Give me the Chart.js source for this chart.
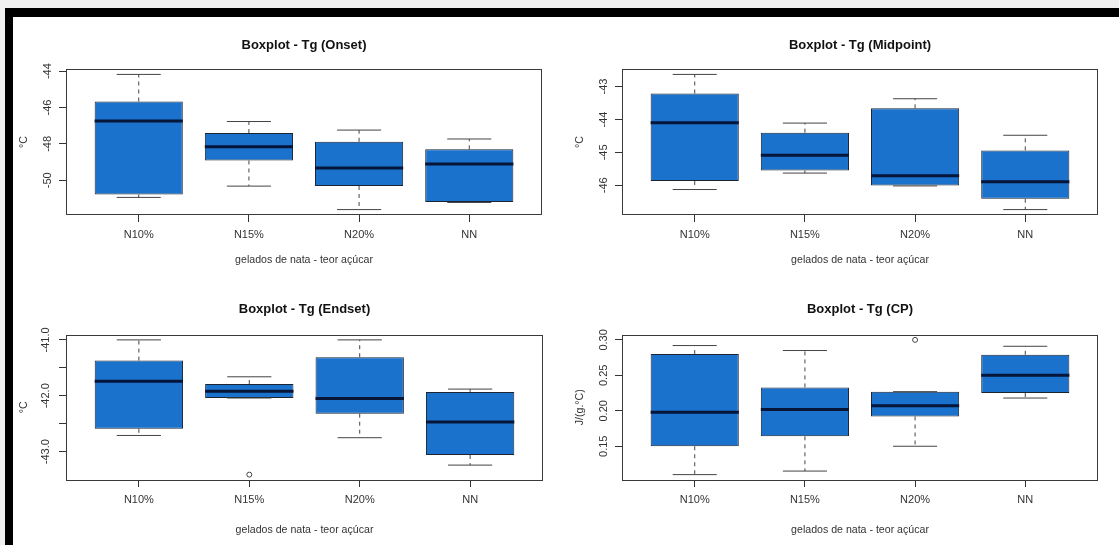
<!DOCTYPE html>
<html>
<head>
<meta charset="utf-8">
<script src="https://cdn.jsdelivr.net/npm/chart.js@4.4.1/dist/chart.umd.min.js"></script>
<style>
  html, body { margin: 0; padding: 0; }
  body { width: 1119px; height: 545px; position: relative; overflow: hidden; background: #f1f1f1; }
  #frame { position: absolute; left: 5px; top: 8px; right: 0; bottom: 0; background: #000; }
  #paper { position: absolute; left: 13px; top: 17px; right: 0; bottom: 0; background: #fff; }
  canvas { position: absolute; }
</style>
</head>
<body>
<div id="frame"></div>
<div id="paper"></div>
<canvas id="onset" width="547" height="263" style="left:13px;top:17px"></canvas>
<canvas id="midpoint" width="559" height="263" style="left:560px;top:17px"></canvas>
<canvas id="endset" width="547" height="265" style="left:13px;top:280px"></canvas>
<canvas id="cp" width="559" height="265" style="left:560px;top:280px"></canvas>
<script>
const categories = ['N10%', 'N15%', 'N20%', 'NN'];

// Tg (Onset), °C
const onsetLow = [-50.94, -50.32, -51.61, -51.22];
const onsetQ1 = [-50.78, -48.91, -50.31, -51.19];
const onsetMedian = [-46.74, -48.16, -49.33, -49.10];
const onsetQ3 = [-45.67, -47.40, -47.88, -48.30];
const onsetHigh = [-44.18, -46.77, -47.24, -47.73];
const onsetOutliers = [[], [], [], []];
const onsetTicks = [-50, -48, -46, -44];

// Tg (Midpoint), °C
const midLow = [-46.13, -45.63, -46.02, -46.74];
const midQ1 = [-45.87, -45.55, -46.01, -46.41];
const midMedian = [-44.10, -45.09, -45.71, -45.89];
const midQ3 = [-43.21, -44.40, -43.66, -44.94];
const midHigh = [-42.63, -44.11, -43.37, -44.48];
const midOutliers = [[], [], [], []];
const midTicks = [-46, -45, -44, -43];

// Tg (Endset), °C
const endLow = [-42.71, -42.04, -42.75, -43.24];
const endQ1 = [-42.59, -42.04, -42.32, -43.06];
const endMedian = [-41.74, -41.92, -42.05, -42.47];
const endQ3 = [-41.37, -41.79, -41.31, -41.93];
const endHigh = [-41.00, -41.66, -41.00, -41.88];
const endOutliers = [[], [-43.41], [], []];
const endTicks = [-43, -42.5, -42, -41.5, -41];

// Tg (CP), J/(g.°C)
const cpLow = [0.110, 0.115, 0.150, 0.218];
const cpQ1 = [0.150, 0.164, 0.192, 0.225];
const cpMedian = [0.198, 0.202, 0.207, 0.250];
const cpQ3 = [0.280, 0.233, 0.227, 0.279];
const cpHigh = [0.292, 0.285, 0.227, 0.291];
const cpOutliers = [[], [], [0.300], []];
const cpTicks = [0.15, 0.20, 0.25, 0.30];

const FONT = '"Liberation Sans", Arial, sans-serif';
const TICK_SIZE = 11;
const LABEL_SIZE = 10.6;
const TITLE_SIZE = 13;
const BOX_FILL = '#1a72cd';
const INK = '#333';

function measureWidest(labels) {
    const ctx = document.createElement('canvas').getContext('2d');
    ctx.font = TICK_SIZE + 'px ' + FONT;
    return Math.max(...labels.map(l => ctx.measureText(l).width));
}

// vertical segments from a to b for each group, split by gaps
function verticalSegments(a, b) {
    const pts = [];
    a.forEach((v, i) => {
        pts.push({ x: i + 1, y: v }, { x: i + 1, y: b[i] }, { x: i + 1, y: null });
    });
    return pts;
}

// horizontal segments centred on each group
function horizontalSegments(vals, half) {
    const pts = [];
    vals.forEach((v, i) => {
        pts.push({ x: i + 1 - half, y: v }, { x: i + 1 + half, y: v }, { x: i + 1, y: null });
    });
    return pts;
}

const frameBox = {
    id: 'frameBox',
    afterDraw(chart) {
        const { ctx, chartArea: a } = chart;
        ctx.save();
        ctx.strokeStyle = '#3a3a3a';
        ctx.lineWidth = 1;
        ctx.strokeRect(Math.round(a.left) + 0.5, Math.round(a.top) + 0.5,
            Math.round(a.right - a.left) - 1, Math.round(a.bottom - a.top) - 1);
        ctx.restore();
    }
};

function drawBoxplot(p) {
    const all = p.low.concat(p.high, ...p.outliers);
    const lo = Math.min(...all), hi = Math.max(...all);
    const ext = (hi - lo) * 0.04;
    const labels = p.ticks.map(p.fmt).filter(s => s !== '');
    const tickPad = Math.max(0, 11 - measureWidest(labels) / 2);
    const titleLine = TITLE_SIZE * 1.2;
    const titlePadTop = p.titleCenter - titleLine / 2;
    const labelLine = LABEL_SIZE * 1.2;

    const outlierPts = [];
    p.outliers.forEach((list, i) => list.forEach(v => outlierPts.push({ x: i + 1, y: v })));

    new Chart(document.getElementById(p.id), {
        type: 'bar',
        data: {
            datasets: [{
                label: 'box',
                data: p.q1.map((v, i) => ({ x: i + 1, y: [v, p.q3[i]] })),
                backgroundColor: BOX_FILL,
                borderColor: '#1b2430',
                borderWidth: 1,
                borderSkipped: false,
                barPercentage: 0.8,
                categoryPercentage: 1,
                order: 4
            }, {
                type: 'line',
                label: 'whiskers',
                data: verticalSegments(p.q3, p.high).concat(verticalSegments(p.q1, p.low)),
                borderColor: '#444',
                borderWidth: 1,
                borderDash: [4, 4],
                pointRadius: 0,
                spanGaps: false,
                order: 3
            }, {
                type: 'line',
                label: 'caps',
                data: horizontalSegments(p.high, 0.2).concat(horizontalSegments(p.low, 0.2)),
                borderColor: '#444',
                borderWidth: 1,
                pointRadius: 0,
                spanGaps: false,
                order: 2
            }, {
                type: 'line',
                label: 'median',
                data: horizontalSegments(p.median, 0.4),
                borderColor: '#061538',
                borderWidth: 3,
                pointRadius: 0,
                spanGaps: false,
                order: 1
            }, {
                type: 'line',
                label: 'outliers',
                data: outlierPts,
                showLine: false,
                pointRadius: 2.5,
                pointStyle: 'circle',
                pointBackgroundColor: '#fff',
                pointBorderColor: '#444',
                pointBorderWidth: 1,
                order: 0
            }]
        },
        options: {
            responsive: false,
            animation: false,
            events: [],
            layout: { padding: { left: 0, right: p.padRight, top: 0, bottom: 0 } },
            plugins: {
                legend: { display: false },
                tooltip: { enabled: false },
                title: {
                    display: true,
                    text: p.title,
                    fullSize: false,
                    color: '#111',
                    font: { family: FONT, size: TITLE_SIZE, weight: 'bold' },
                    padding: { top: titlePadTop, bottom: p.titleBlock - titleLine - titlePadTop }
                }
            },
            scales: {
                x: {
                    type: 'linear',
                    min: 0.34,
                    max: 4.66,
                    offset: false,
                    afterBuildTicks: s => { s.ticks = categories.map((c, i) => ({ value: i + 1 })); },
                    afterFit: s => { s.height = 65; },
                    grid: { display: true, drawOnChartArea: false, drawTicks: true, tickLength: 7, color: INK, offset: false },
                    border: { display: false },
                    ticks: {
                        autoSkip: false,
                        maxRotation: 0,
                        padding: 6,
                        color: INK,
                        font: { family: FONT, size: TICK_SIZE },
                        callback: v => categories[v - 1]
                    },
                    title: {
                        display: true,
                        text: 'gelados de nata - teor açúcar',
                        color: INK,
                        font: { family: FONT, size: LABEL_SIZE },
                        padding: { top: 0, bottom: 65 - labelLine / 2 - p.xTitleGap }
                    }
                },
                y: {
                    min: lo - ext,
                    max: hi + ext,
                    afterBuildTicks: s => { s.ticks = p.ticks.map(v => ({ value: v })); },
                    afterFit: s => { s.width = p.yWidth; },
                    grid: { display: true, drawOnChartArea: false, drawTicks: true, tickLength: 7, color: INK },
                    border: { display: false },
                    ticks: {
                        minRotation: 90,
                        maxRotation: 90,
                        crossAlign: 'center',
                        autoSkip: false,
                        padding: tickPad,
                        color: INK,
                        font: { family: FONT, size: TICK_SIZE },
                        callback: v => p.fmt(v)
                    },
                    title: {
                        display: true,
                        text: p.yTitle,
                        color: INK,
                        font: { family: FONT, size: LABEL_SIZE },
                        padding: { top: p.yWidth - 41.5 - labelLine / 2, bottom: 0 }
                    }
                }
            }
        },
        plugins: [frameBox]
    });
}

const topRow = { titleCenter: 28.5, titleBlock: 52, xTitleGap: 45.5 };
const bottomRow = { titleCenter: 29, titleBlock: 54.5, xTitleGap: 50 };

drawBoxplot(Object.assign({
    id: 'onset', title: 'Boxplot - Tg (Onset)', yTitle: '°C',
    low: onsetLow, q1: onsetQ1, median: onsetMedian, q3: onsetQ3, high: onsetHigh,
    outliers: onsetOutliers, ticks: onsetTicks, fmt: v => String(v),
    yWidth: 53, padRight: 18
}, topRow));

drawBoxplot(Object.assign({
    id: 'midpoint', title: 'Boxplot - Tg (Midpoint)', yTitle: '°C',
    low: midLow, q1: midQ1, median: midMedian, q3: midQ3, high: midHigh,
    outliers: midOutliers, ticks: midTicks, fmt: v => String(v),
    yWidth: 62, padRight: 21
}, topRow));

drawBoxplot(Object.assign({
    id: 'endset', title: 'Boxplot - Tg (Endset)', yTitle: '°C',
    low: endLow, q1: endQ1, median: endMedian, q3: endQ3, high: endHigh,
    outliers: endOutliers, ticks: endTicks,
    fmt: v => (Number.isInteger(v) ? v.toFixed(1) : ''),
    yWidth: 53, padRight: 17
}, bottomRow));

drawBoxplot(Object.assign({
    id: 'cp', title: 'Boxplot - Tg (CP)', yTitle: 'J/(g.°C)',
    low: cpLow, q1: cpQ1, median: cpMedian, q3: cpQ3, high: cpHigh,
    outliers: cpOutliers, ticks: cpTicks, fmt: v => v.toFixed(2),
    yWidth: 62, padRight: 21
}, bottomRow));
</script>
</body>
</html>
